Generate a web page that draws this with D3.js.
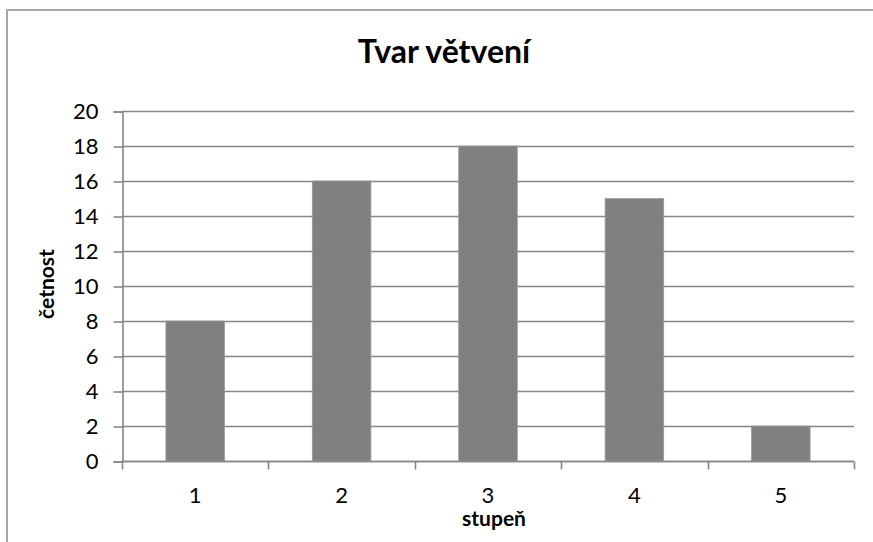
<!DOCTYPE html>
<html>
<head>
<meta charset="utf-8">
<script src="https://cdn.jsdelivr.net/npm/d3@7/dist/d3.min.js"></script>
<style>
  html, body { margin: 0; padding: 0; background: #fff; }
  svg { display: block; }
  text { font-family: Lato, "Open Sans", sans-serif; fill: #000; }
</style>
</head>
<body>
<svg id="chart" width="873" height="542"></svg>
<script>
// Branching shape – frequency per degree
const title = "Tvar větvení";
const xTitle = "stupeň";
const yTitle = "četnost";
const categories = ["1", "2", "3", "4", "5"];
const counts = [8, 16, 18, 15, 2];
const yTicks = [0, 2, 4, 6, 8, 10, 12, 14, 16, 18, 20];

const W = 873, H = 542;
const plot = { left: 122, right: 854, top: 111, bottom: 461 };

const svg = d3.select("#chart");

// chart-area frame (open at right/bottom as it runs past the page edges)
svg.append("rect")
  .attr("x", 7).attr("y", 10)
  .attr("width", W + 20).attr("height", H + 20)
  .attr("fill", "#fff")
  .attr("stroke", "#a6a6a6").attr("stroke-width", 2);

const x = d3.scaleBand()
  .domain(categories)
  .range([plot.left, plot.right])
  .paddingInner(0.6).paddingOuter(0.3);

const y = d3.scaleLinear()
  .domain([0, 20])
  .range([plot.bottom, plot.top]);

// horizontal gridlines
svg.append("g")
  .selectAll("line")
  .data(yTicks)
  .join("line")
  .attr("x1", plot.left).attr("x2", plot.right)
  .attr("y1", d => Math.round(y(d)) + 0.5)
  .attr("y2", d => Math.round(y(d)) + 0.5)
  .attr("stroke", "#868686").attr("stroke-width", 1.6);

// bars
svg.append("g")
  .selectAll("rect")
  .data(counts)
  .join("rect")
  .attr("x", (d, i) => x(categories[i]))
  .attr("width", x.bandwidth())
  .attr("y", d => y(d))
  .attr("height", d => y(0) - y(d))
  .attr("fill", "#808080")
  .attr("stroke", "#9a9a9a").attr("stroke-width", 0.8);

// y axis
const yAxis = d3.axisLeft(y)
  .tickValues(yTicks)
  .tickSize(9)
  .tickPadding(15)
  .tickFormat(d3.format("d"));
const gy = svg.append("g")
  .attr("transform", `translate(${plot.left + 0.5},0.5)`)
  .call(yAxis);
gy.select(".domain").attr("stroke", "#868686").attr("stroke-width", 1.6);
gy.selectAll(".tick line").attr("stroke", "#868686").attr("stroke-width", 1.6);
gy.selectAll(".tick text").style("font-size", "22px").attr("fill", "#000");

// x axis: category ticks sit on band boundaries
const xEdges = d3.scaleLinear().domain([0, categories.length]).range([plot.left, plot.right]);
const gx = svg.append("g").attr("transform", `translate(0,${Math.round(y(0)) + 0.5})`);
gx.append("line")
  .attr("x1", plot.left).attr("x2", plot.right)
  .attr("stroke", "#868686").attr("stroke-width", 1.6);
gx.selectAll("line.tk")
  .data(d3.range(categories.length + 1))
  .join("line").attr("class", "tk")
  .attr("x1", d => Math.round(xEdges(d)) + 0.5)
  .attr("x2", d => Math.round(xEdges(d)) + 0.5)
  .attr("y1", 0).attr("y2", 8)
  .attr("stroke", "#868686").attr("stroke-width", 1.6);
gx.selectAll("text")
  .data(categories)
  .join("text")
  .attr("x", d => x(d) + x.bandwidth() / 2)
  .attr("y", 41)
  .attr("text-anchor", "middle")
  .style("font-size", "22px")
  .text(d => d);

// titles
svg.append("text")
  .attr("x", 444).attr("y", 63)
  .attr("text-anchor", "middle")
  .style("font-size", "32px").style("font-weight", "bold")
  .text(title);

svg.append("text")
  .attr("x", 494).attr("y", 526)
  .attr("text-anchor", "middle")
  .style("font-size", "21px").style("font-weight", "bold")
  .text(xTitle);

svg.append("text")
  .attr("transform", `translate(54,${(plot.top + plot.bottom) / 2 - 2}) rotate(-90)`)
  .attr("text-anchor", "middle")
  .style("font-size", "21px").style("font-weight", "bold")
  .text(yTitle);
</script>
</body>
</html>
